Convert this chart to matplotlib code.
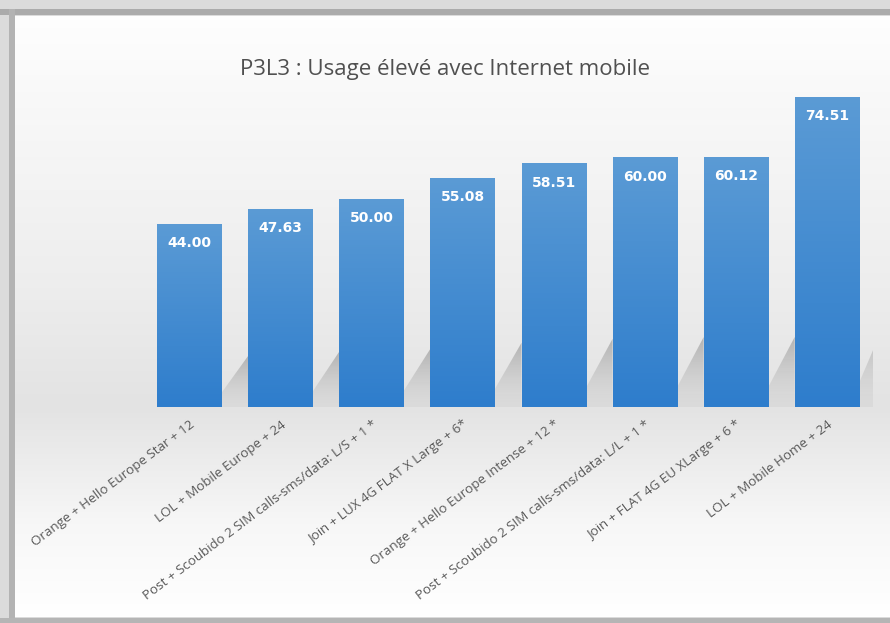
import numpy as np
import matplotlib
matplotlib.use("Agg")
import matplotlib.pyplot as plt
from matplotlib.colors import LinearSegmentedColormap
from matplotlib.patches import Polygon

title = "P3L3 : Usage élevé avec Internet mobile"
categories = [
    "Orange + Hello Europe Star + 12",
    "LOL + Mobile Europe + 24",
    "Post + Scoubido 2 SIM calls-sms/data: L/S + 1 *",
    "Join + LUX 4G FLAT X Large + 6*",
    "Orange + Hello Europe Intense + 12 *",
    "Post + Scoubido 2 SIM calls-sms/data: L/L + 1 *",
    "Join + FLAT 4G EU XLarge + 6 *",
    "LOL + Mobile Home + 24",
]
values = [44.00, 47.63, 50.00, 55.08, 58.51, 60.00, 60.12, 74.51]

W, H = 890, 623
fig = plt.figure(figsize=(W / 100, H / 100), dpi=100)
fig.patch.set_facecolor("#d9d9d9")

# background frame + panel gradient
bg = fig.add_axes([0, 0, 1, 1], zorder=0)
bg.set_xlim(0, W)
bg.set_ylim(H, 0)
bg.axis("off")
frame = np.ones((H, W, 3)) * 0.86
bg.imshow(frame, extent=(0, W, H, 0), aspect="auto", zorder=0)
bg.fill_between([0, W], 9, 15, color="#ababab", zorder=1, lw=0)
bg.fill_between([9, 15], 9, 623, color="#b3b3b3", zorder=1, lw=0)
bg.fill_between([0, W], 618, 623, color="#b5b5b5", zorder=1, lw=0)
ys = np.linspace(0, 1, 300)
prof = np.interp(ys, [0, 0.1, 0.45, 0.65, 0.85, 1.0], [0.995, 0.98, 0.93, 0.89, 0.97, 1.0])
panel = np.repeat(prof[:, None], 2, axis=1)
panel = np.dstack([panel, panel, panel])
bg.imshow(panel, extent=(15, W, 617, 16), aspect="auto", zorder=2,
          interpolation="bilinear")

fig.text(445 / W, 1 - 70 / H, title, ha="center", va="center",
         fontsize=16, color="#505050", family="Open Sans")

ax = fig.add_axes([144 / W, (H - 407) / H, 728.6 / W, 333 / H], zorder=2)
ax.patch.set_alpha(0)
x = np.arange(len(values))
width = 0.71
ax.set_xlim(-0.5, len(values) - 0.5)
ax.set_ylim(0, 80)

# soft cast shadows behind bars
sh = np.zeros((256, 2, 4))
sh[..., :3] = 0.35
t = np.linspace(0, 1, 256)[:, None]
sh[..., 3] = 0.06 + 0.32 * t ** 1.5
for xi, v in zip(x, values):
    xr = xi + width / 2
    top = 0.28 * v
    poly = Polygon([(xr, 0), (xr, 0.08 * v), (xr + 0.29, top), (xr + 0.29, 0)],
                   closed=True, facecolor="none", edgecolor="none")
    ax.add_patch(poly)
    im = ax.imshow(sh, extent=(xr, xr + 0.29, 0, top), origin="lower",
                   aspect="auto", zorder=2, interpolation="bilinear")
    im.set_clip_path(poly)

bars = ax.bar(x, values, width=width, color="#4a8fd6", zorder=3)
cmap = LinearSegmentedColormap.from_list("b", ["#2e7dcc", "#5b9bd5"])
grad = np.linspace(0, 1, 256)[:, None]
for b in bars:
    x0, y0 = b.get_x(), b.get_y()
    im = ax.imshow(grad, extent=(x0, x0 + b.get_width(), y0, y0 + b.get_height()),
                   origin="lower", cmap=cmap, aspect="auto", zorder=4)
    im.set_clip_path(b)

for xi, v in zip(x, values):
    ax.annotate(f"{v:.2f}", (xi, v), xytext=(0, -9), textcoords="offset points",
                ha="center", va="top", color="white", fontsize=10,
                fontweight="bold", family="DejaVu Sans", zorder=5)

for s in ax.spines.values():
    s.set_visible(False)
ax.set_yticks([])
ax.set_xticks(x)
ax.set_xticklabels(categories, rotation=37, ha="right", rotation_mode="anchor",
                   fontsize=9.6, color="#595959", family="Open Sans")
ax.tick_params(axis="x", length=0, pad=8)
ax.set_xlim(-0.5, len(values) - 0.5)

fig.savefig("out.png", dpi=100)
